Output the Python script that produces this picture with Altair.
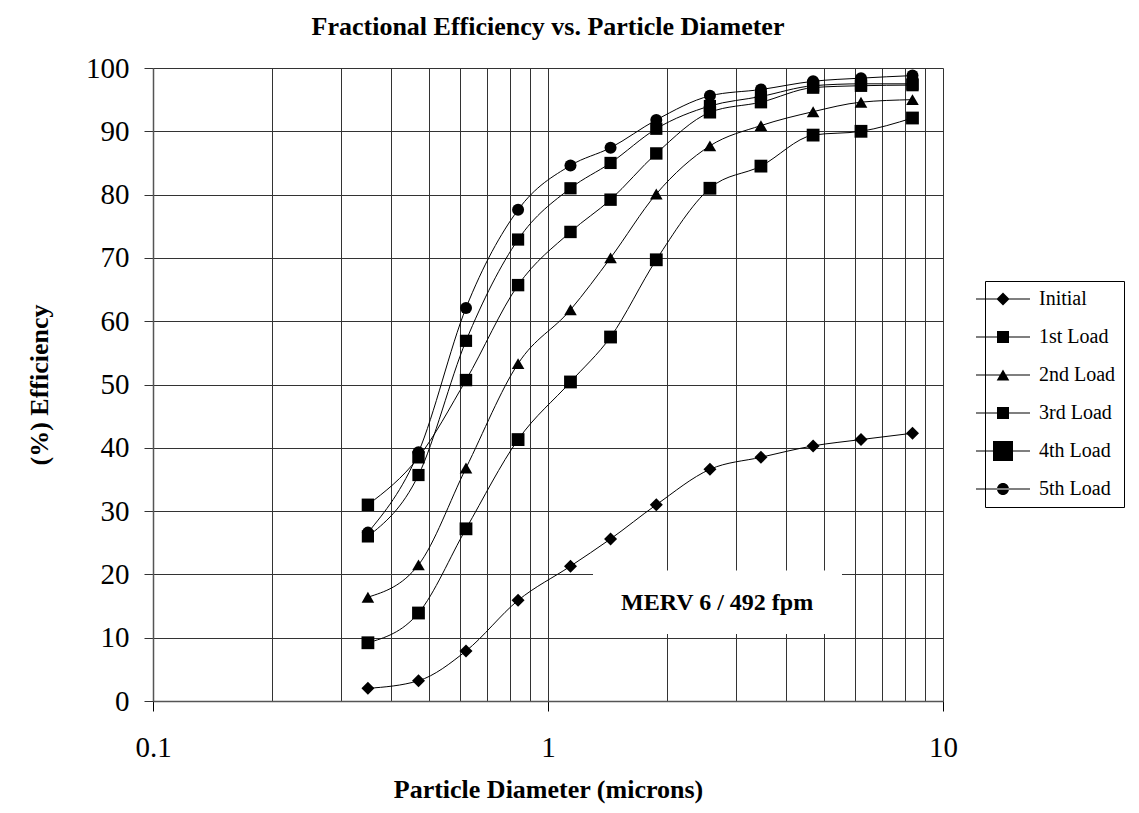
import altair as alt
import pandas as pd

# ---------------- data ----------------
diameters = [0.35, 0.47, 0.62, 0.84, 1.14, 1.44, 1.88, 2.57, 3.46, 4.69, 6.20, 8.37]
series_names = ["Initial", "1st Load", "2nd Load", "3rd Load", "4th Load", "5th Load"]

initial = [2.0, 3.2, 7.9, 15.9, 21.3, 25.6, 31.0, 36.6, 38.5, 40.3, 41.3, 42.3]
load1 = [9.2, 13.9, 27.2, 41.3, 50.4, 57.5, 69.7, 81.0, 84.5, 89.4, 90.0, 92.1]
load2 = [16.4, 21.5, 36.8, 53.3, 61.8, 70.0, 80.1, 87.7, 90.9, 93.1, 94.6, 95.0]
load3 = [31.0, 38.5, 50.7, 65.7, 74.1, 79.2, 86.5, 93.0, 94.6, 96.9, 97.2, 97.3]
load4 = [26.0, 35.7, 56.9, 72.9, 81.0, 85.0, 90.4, 94.0, 95.5, 97.2, 97.5, 97.5]
load5 = [26.6, 39.3, 62.1, 77.6, 84.6, 87.4, 91.8, 95.6, 96.6, 97.9, 98.4, 98.8]

x_grid_values = [0.1, 0.2, 0.3, 0.4, 0.5, 0.6, 0.7, 0.8, 0.9,
                 1, 2, 3, 4, 5, 6, 7, 8, 9, 10]
x_major = [0.1, 1, 10]
y_ticks = [0, 10, 20, 30, 40, 50, 60, 70, 80, 90, 100]

note_text = ["MERV 6 / 492 fpm"]
note_x = [2.68]
note_y = [15.5]
note_box_x = [1.30]
note_box_x2 = [5.55]
note_box_y = [10.6]
note_box_y2 = [20.6]

# marker styles
plot_shapes = ["diamond", "square", "triangle-up", "square", "square", "circle"]
plot_sizes = [169, 144, 160, 144, 400, 144]
_line = "M-2.7,-0.05H2.7V0.05H-2.7Z"
legend_paths = [
    _line + "M-0.65,0L0,-0.65L0.65,0L0,0.65Z",
    _line + "M-0.6,-0.6H0.6V0.6H-0.6Z",
    _line + "M0,-0.55L0.63,0.55L-0.63,0.55Z",
    _line + "M-0.6,-0.6H0.6V0.6H-0.6Z",
    _line + "M-1,-1H1V1H-1Z",
    _line + "M-0.6,0A0.6,0.6,0,1,0,0.6,0A0.6,0.6,0,1,0,-0.6,0Z",
]

rows = []
for name, vals in zip(series_names, [initial, load1, load2, load3, load4, load5]):
    for d, v in zip(diameters, vals):
        rows.append({"series": name, "legend_series": name, "d": d, "eff": v})
df = pd.DataFrame(rows)

note_df = pd.DataFrame({"text": note_text, "x": note_x, "y": note_y,
                        "bx": note_box_x, "bx2": note_box_x2,
                        "by": note_box_y, "by2": note_box_y2})

FONT = "Liberation Serif"
major_test = " || ".join(f"datum.value == {v}" for v in x_major)

x_scale = alt.Scale(type="log", domain=[0.1, 10], nice=False)
y_scale = alt.Scale(domain=[0, 100], nice=False)

x_axis = alt.Axis(
    values=x_grid_values,
    title="Particle Diameter (microns)",
    labelExpr=f"({major_test}) ? format(datum.value, '~g') : ''",
    labelOverlap=False, labelFlush=False,
    labelFont=FONT, labelFontSize=29, labelColor="black", labelPadding=22,
    tickOpacity={"condition": {"test": major_test, "value": 1}, "value": 0},
    tickSize=10, tickColor="black", tickWidth=1,
    grid=True, gridColor="#333", gridWidth=1,
    domainColor="#555", domainWidth=1.5,
    titleFont=FONT, titleFontSize=26, titleFontWeight="bold", titleColor="black",
    titlePadding=14,
)
y_axis = alt.Axis(
    values=y_ticks,
    title="(%) Efficiency",
    labelFont=FONT, labelFontSize=29, labelColor="black", labelPadding=15,
    tickSize=9, tickColor="#333",
    grid=True, gridColor="#333", gridWidth=1,
    domainColor="#555", domainWidth=1.5,
    titleFont=FONT, titleFontSize=26, titleFontWeight="bold", titleColor="black",
    titlePadding=33,
)

base = alt.Chart(df)

lines = base.mark_line(color="black", strokeWidth=1, interpolate="monotone").encode(
    x=alt.X("d:Q", scale=x_scale, axis=x_axis),
    y=alt.Y("eff:Q", scale=y_scale, axis=y_axis),
    detail="series:N",
)

points = base.mark_point(filled=True, color="black", opacity=1).encode(
    x=alt.X("d:Q", scale=x_scale),
    y=alt.Y("eff:Q", scale=y_scale),
    shape=alt.Shape("series:N", scale=alt.Scale(domain=series_names, range=plot_shapes), legend=None),
    size=alt.Size("series:N", scale=alt.Scale(domain=series_names, range=plot_sizes), legend=None),
)

legend_layer = base.mark_point(filled=True, color="black", opacity=0).encode(
    x=alt.X("d:Q", scale=x_scale),
    y=alt.Y("eff:Q", scale=y_scale),
    shape=alt.Shape(
        "legend_series:N",
        scale=alt.Scale(domain=series_names, range=legend_paths),
        legend=alt.Legend(
            title=None, orient="none", legendX=832, legendY=213,
            symbolSize=400, symbolFillColor="black", symbolStrokeColor="black",
            symbolStrokeWidth=0, symbolOpacity=1,
            labelFont=FONT, labelFontSize=20, labelColor="black", labelOffset=26,
            rowPadding=18, padding=8, strokeColor="black", fillColor="white",
            cornerRadius=0,
        ),
    ),
)

note_box = alt.Chart(note_df).mark_rect(fill="white").encode(
    x=alt.X("bx:Q", scale=x_scale),
    x2="bx2:Q",
    y=alt.Y("by:Q", scale=y_scale),
    y2="by2:Q",
)
note = alt.Chart(note_df).mark_text(font=FONT, fontSize=24, fontWeight="bold", color="black").encode(
    x=alt.X("x:Q", scale=x_scale),
    y=alt.Y("y:Q", scale=y_scale),
    text="text:N",
)

chart = alt.layer(lines, note_box, points, legend_layer, note).resolve_scale(
    shape="independent", size="independent"
).properties(
    width=790, height=633,
    padding={"left": 145, "top": 60, "right": 188, "bottom": 104},
    autosize=alt.AutoSizeParams(type="none"),
    title=alt.Title("Fractional Efficiency vs. Particle Diameter", font=FONT, fontSize=26,
                    fontWeight="bold", color="black", offset=14, anchor="middle", frame="group"),
).configure_view(stroke="#555", strokeWidth=1.5).configure(background="white")

chart.save("out.html", embed_options={"renderer": "svg", "actions": False})
